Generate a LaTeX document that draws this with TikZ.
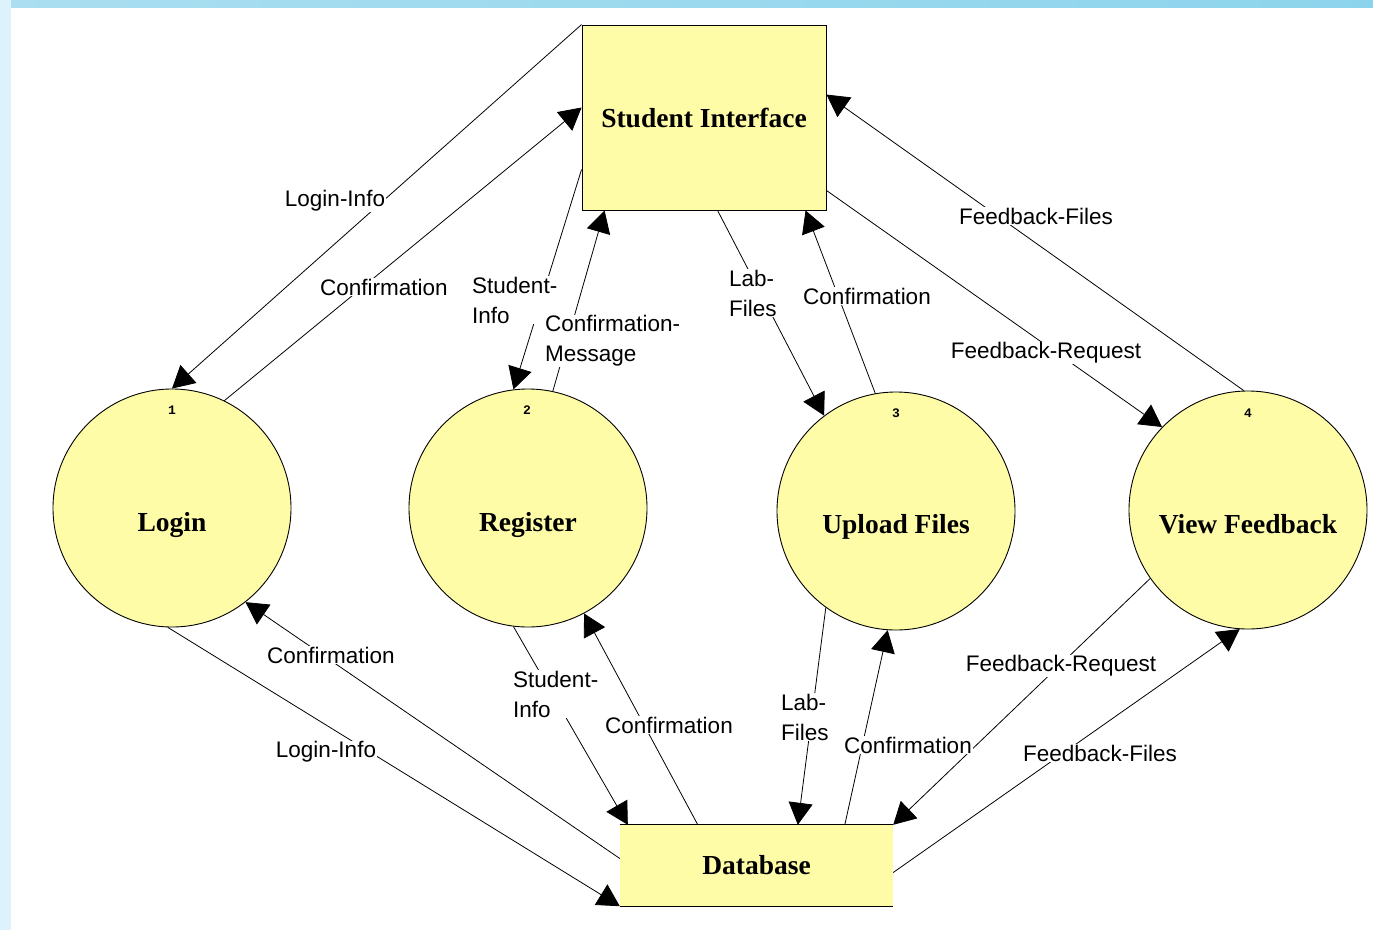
\documentclass[tikz,border=0pt]{standalone}
\usepackage{fontspec}
\setmainfont{Liberation Serif}
\newfontfamily\lblfont{Liberation Sans}
\newfontfamily\numfont{Liberation Mono}
\usetikzlibrary{arrows.meta,calc}
\definecolor{procfill}{RGB}{255,252,168}
\definecolor{bgside}{RGB}{222,242,251}
\definecolor{bgtopa}{RGB}{170,222,240}
\definecolor{bgtopb}{RGB}{140,212,236}
\begin{document}
\begin{tikzpicture}[x=1pt,y=-1pt,
  proc/.style={circle, draw, fill=procfill, minimum size=238pt, inner sep=0pt, line width=0.9pt},
  ext/.style={rectangle, draw, fill=procfill, minimum width=244pt, minimum height=185pt, line width=0.9pt, inner sep=0pt},
  store/.style={rectangle, fill=procfill, minimum width=273pt, minimum height=81pt, inner sep=0pt},
  title/.style={font=\bfseries\fontsize{27.5}{30}\selectfont},
  flow/.style={draw, line width=0.8pt, -{Triangle[length=22pt,width=24pt]}},
  lbl/.style={fill=white, inner sep=1pt, font=\lblfont\fontsize{22.5}{30}\selectfont, align=left},
  num/.style={font=\numfont\bfseries\fontsize{13}{14}\selectfont}]
\useasboundingbox (0,0) rectangle (1373,930);
% background
\fill[bgside] (0,0) rectangle (1373,930);
\fill[white] (11,7) rectangle (1373,930);
\shade[left color=bgtopa, right color=bgtopb] (11,0) rectangle (1373,7);

% nodes
\node[ext, title] (si) at (704,117.5) {Student Interface};
\node[store, title] (db) at (756.5,865.5) {Database};
\draw[line width=1pt] (db.north west) -- (db.north east);
\draw[line width=1pt] (db.south west) -- (db.south east);

\node[proc] (login) at (172,508) {};
\node[proc] (reg) at (528,508) {};
\node[proc] (up) at (896,511) {};
\node[proc] (vf) at (1248,510) {};

\node[title] (loginT) at ([yshift=-17pt]login.center) {Login};
\node[title] (regT) at ([yshift=-17pt]reg.center) {Register};
\node[title] (upT) at ([yshift=-16pt]up.center) {Upload Files};
\node[title] (vfT) at ([yshift=-14pt]vf.center) {View Feedback};

\node[num] (n1) at (172,410) {1};
\node[num] (n2) at (527,410) {2};
\node[num] (n3) at (896,413) {3};
\node[num] (n4) at (1248,413) {4};

% flows
\draw[flow] (si.north west) -- (login.90);
\draw[flow] (login.64) -- ([yshift=10pt]si.west);
\draw[flow] ([yshift=-52pt]si.west) -- (reg.97);
\draw[flow] (reg.78) -- ([xshift=23pt]si.south west);
\draw[flow] ([xshift=136pt]si.south west) -- (up.127);
\draw[flow] (up.100) -- ([xshift=224pt]si.south west);
\draw[flow] ([yshift=20pt]si.south east) -- (vf.136);
\draw[flow] (vf.92) -- ([yshift=-70pt]si.north east);
\draw[flow] ([yshift=7pt]db.west) -- (login.-52);
\draw[flow] (login.268) -- (db.south west);
\draw[flow] (reg.263) -- ([xshift=8pt]db.north west);
\draw[flow] ([xshift=78pt]db.north west) -- (reg.-62);
\draw[flow] (up.234) -- ([xshift=178pt]db.north west);
\draw[flow] ([xshift=225pt]db.north west) -- (up.266);
\draw[flow] (vf.215) -- (db.north east);
\draw[flow] ([yshift=-7pt]db.east) -- (vf.266);

% labels
\node[lbl] (l1) at (335,201) {Login-Info};
\node[lbl] (l2) at (384,287) {Confirmation};
\node[lbl, anchor=west] (l3) at (471,300) {Student-\\Info};
\node[lbl, anchor=west] (l4) at (544,341) {Confirmation-\\Message};
\node[lbl, anchor=west] (l5) at (728,293) {Lab-\\Files};
\node[lbl] (l6) at (867,296) {Confirmation};
\node[lbl] (l7) at (1046,353) {Feedback-Request};
\node[lbl] (l8) at (1036,216) {Feedback-Files};
\node[lbl] (l9) at (331,655) {Confirmation};
\node[lbl] (l10) at (326,752) {Login-Info};
\node[lbl, anchor=west] (l11) at (512,694) {Student-\\Info};
\node[lbl] (l12) at (669,725) {Confirmation};
\node[lbl, anchor=west] (l13) at (780,717) {Lab-\\Files};
\node[lbl] (l14) at (908,745) {Confirmation};
\node[lbl] (l15) at (1061,666) {Feedback-Request};
\node[lbl] (l16) at (1100,753) {Feedback-Files};
\end{tikzpicture}
\end{document}
